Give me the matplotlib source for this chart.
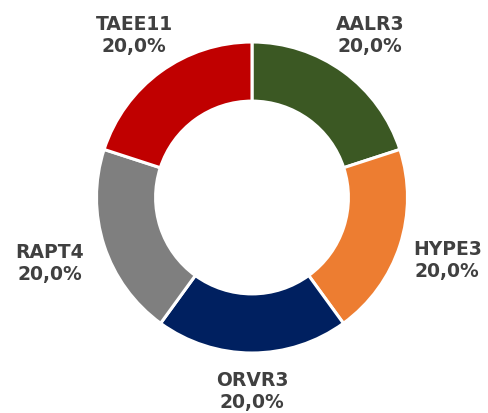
import numpy as np
import matplotlib
matplotlib.use("Agg")
import matplotlib.pyplot as plt

tickers = ["AALR3", "HYPE3", "ORVR3", "RAPT4", "TAEE11"]
weights = [20.0, 20.0, 20.0, 20.0, 20.0]
colors = ["#3B5823", "#ED7D31", "#002060", "#7F7F7F", "#C00000"]

fig = plt.figure(figsize=(4.89, 4.13), dpi=100)
ax = fig.add_axes([0, 0, 1, 1])

# pixel scale: outer radius ~155.5 px, centre at (252, 197.5)
R = 155.5
cx, cy = 252, 197.5
wedges, _ = ax.pie(weights, colors=colors, startangle=90, counterclock=False,
                   radius=1.0, wedgeprops=dict(width=0.38, edgecolor="white", linewidth=2.2))

dist = [1.29, 1.32, 1.25, 1.37, 1.29]
for w, t, v, d in zip(wedges, tickers, weights, dist):
    ang = np.deg2rad((w.theta1 + w.theta2) / 2)
    lbl = f"{t}\n{v:.1f}%".replace(".", ",")
    ax.text(d * np.cos(ang), d * np.sin(ang), lbl, ha="center", va="center",
            fontsize=13.5, fontweight="bold", color="#404040", linespacing=1.2,
            family="DejaVu Sans")

ax.set_xlim(-cx / R, (489 - cx) / R)
ax.set_ylim(-(413 - cy) / R, cy / R)
ax.set_aspect("auto")
ax.axis("off")

fig.savefig("out.png", dpi=100, facecolor="white")
